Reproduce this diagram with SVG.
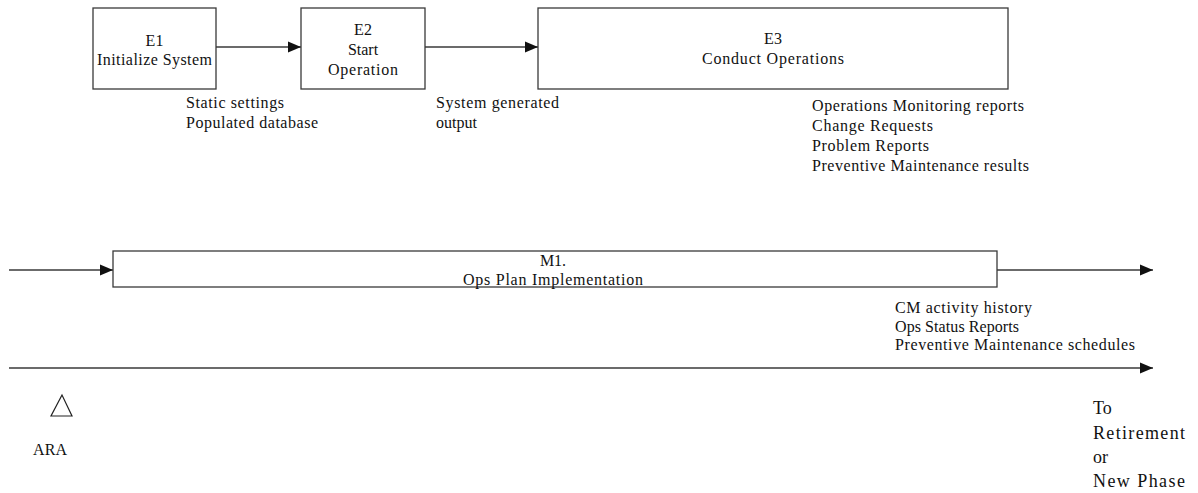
<svg xmlns="http://www.w3.org/2000/svg" width="1198" height="493" viewBox="0 0 1198 493">
  <style>
    .box { fill: #ffffff; stroke: #3a3a3a; stroke-width: 1.3; }
    .wire { fill: none; stroke: #3a3a3a; stroke-width: 1.3; }
    text { font-family: "Liberation Serif", "Times New Roman", serif; font-size: 16px; fill: #111111; }
    .mid { text-anchor: middle; }
    .big { font-size: 18px; }
  </style>
  <defs>
    <marker id="head" markerUnits="userSpaceOnUse" markerWidth="13" markerHeight="12" refX="13" refY="6" orient="auto">
      <path d="M0,0.5 L13,6 L0,11.5 Z" fill="#111111"/>
    </marker>
  </defs>

  <rect width="1198" height="493" fill="#ffffff"/>

  <!-- connectors -->
  <g id="connectors">
    <line class="wire" x1="216" y1="47" x2="301" y2="47" marker-end="url(#head)"/>
    <line class="wire" x1="425" y1="47" x2="538" y2="47" marker-end="url(#head)"/>
    <line class="wire" x1="9" y1="270" x2="113" y2="270" marker-end="url(#head)"/>
    <line class="wire" x1="997" y1="270" x2="1153" y2="270" marker-end="url(#head)"/>
    <line class="wire" x1="9" y1="368" x2="1153" y2="368" marker-end="url(#head)"/>
  </g>

  <!-- E1 -->
  <g id="e1">
    <rect class="box" x="93" y="8" width="123" height="81"/>
    <text class="mid" x="154.5" y="46">E1</text>
    <text class="mid" x="154.5" y="65" textLength="115" lengthAdjust="spacing">Initialize System</text>
  </g>

  <!-- E2 -->
  <g id="e2">
    <rect class="box" x="301" y="8" width="124" height="81"/>
    <text class="mid" x="363" y="35">E2</text>
    <text class="mid" x="363" y="55">Start</text>
    <text class="mid" x="363" y="75" textLength="70" lengthAdjust="spacing">Operation</text>
  </g>

  <!-- E3 -->
  <g id="e3">
    <rect class="box" x="538" y="8" width="470" height="81"/>
    <text class="mid" x="773" y="44">E3</text>
    <text class="mid" x="773" y="64" textLength="142" lengthAdjust="spacing">Conduct Operations</text>
  </g>

  <!-- M1 -->
  <g id="m1">
    <rect class="box" x="113" y="251" width="884" height="36"/>
    <text class="mid" x="553" y="266">M1.</text>
    <text class="mid" x="553" y="285" textLength="180" lengthAdjust="spacing">Ops Plan Implementation</text>
  </g>

  <!-- flow labels -->
  <g id="label-e1-out">
    <text x="186" y="108" textLength="98" lengthAdjust="spacing">Static settings</text>
    <text x="186" y="128" textLength="132" lengthAdjust="spacing">Populated database</text>
  </g>
  <g id="label-e2-out">
    <text x="436" y="108" textLength="123" lengthAdjust="spacing">System generated</text>
    <text x="436" y="128">output</text>
  </g>
  <g id="label-e3-out">
    <text x="812" y="111" textLength="212" lengthAdjust="spacing">Operations Monitoring reports</text>
    <text x="812" y="131" textLength="121" lengthAdjust="spacing">Change Requests</text>
    <text x="812" y="151" textLength="117" lengthAdjust="spacing">Problem Reports</text>
    <text x="812" y="171" textLength="217" lengthAdjust="spacing">Preventive Maintenance results</text>
  </g>
  <g id="label-m1-out">
    <text x="895" y="313" textLength="137" lengthAdjust="spacing">CM activity history</text>
    <text x="895" y="332" textLength="124" lengthAdjust="spacing">Ops Status Reports</text>
    <text x="895" y="350" textLength="240" lengthAdjust="spacing">Preventive Maintenance schedules</text>
  </g>

  <!-- milestone marker -->
  <g id="ara">
    <polygon points="62,395 51,416 72,416" fill="none" stroke="#222222" stroke-width="1.2"/>
    <text x="33" y="455" textLength="34" lengthAdjust="spacing">ARA</text>
  </g>

  <!-- end of phase -->
  <g id="next-phase">
    <text class="big" x="1093" y="414">To</text>
    <text class="big" x="1093" y="439" textLength="92" lengthAdjust="spacing">Retirement</text>
    <text class="big" x="1093" y="463">or</text>
    <text class="big" x="1093" y="487" textLength="92" lengthAdjust="spacing">New Phase</text>
  </g>
</svg>
